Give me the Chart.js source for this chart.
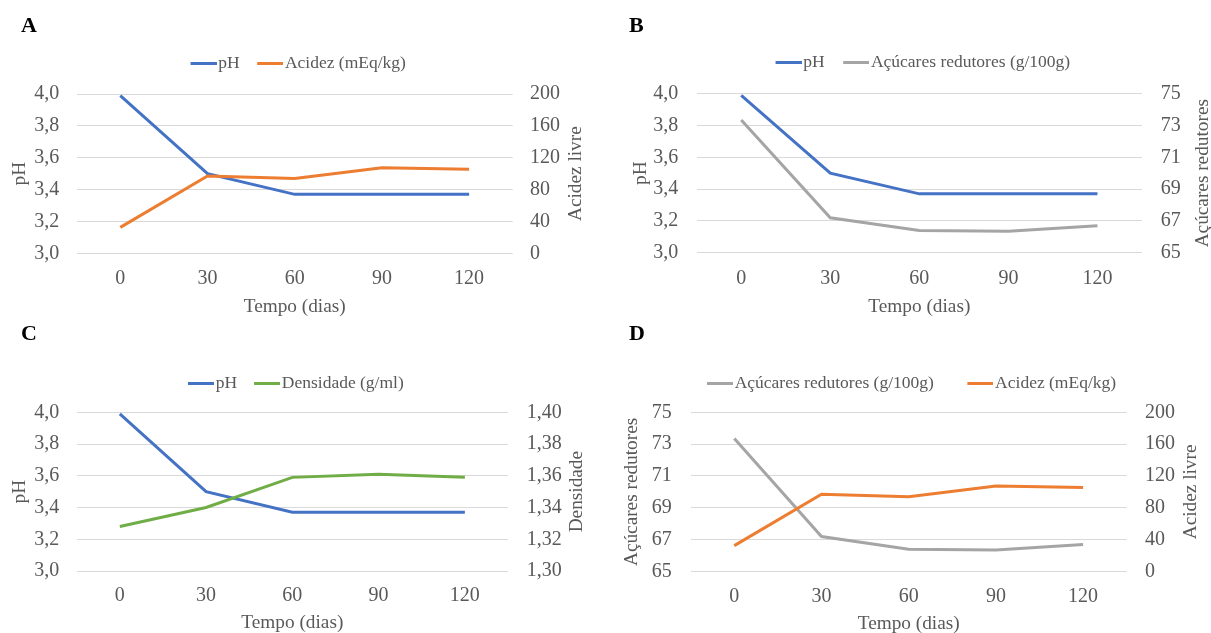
<!DOCTYPE html>
<html>
<head>
<meta charset="utf-8">
<script src="https://cdn.jsdelivr.net/npm/chart.js@4.4.1/dist/chart.umd.min.js"></script>
<style>
html,body{margin:0;padding:0;background:#fff;}
body{width:1211px;height:633px;position:relative;overflow:hidden;}
canvas{position:absolute;}
.lbl{position:absolute;font:bold 22px/22px 'Liberation Serif','Times New Roman',serif;color:#000;z-index:2;}
</style>
</head>
<body>
<div class="lbl" style="left:21px;top:14px">A</div>
<div class="lbl" style="left:629px;top:14px">B</div>
<div class="lbl" style="left:21px;top:322px">C</div>
<div class="lbl" style="left:629px;top:322px">D</div>
<canvas id="cA" width="605" height="320" style="left:0;top:0"></canvas>
<canvas id="cB" width="606" height="320" style="left:605px;top:0"></canvas>
<canvas id="cC" width="605" height="313" style="left:0;top:320px"></canvas>
<canvas id="cD" width="606" height="313" style="left:605px;top:320px"></canvas>
<script>
// ---- data ----
const tempo = ['0', '30', '60', '90', '120'];
const pH = [3.99, 3.50, 3.37, 3.37, 3.37];
const acidez = [32.5, 97, 94, 107.5, 105.5];
const acucares = [73.35, 67.2, 66.4, 66.35, 66.7];
const densidade = [1.328, 1.340, 1.359, 1.361, 1.359];

const seriesLabels = {
  pH: 'pH',
  acidez: 'Acidez (mEq/kg)',
  acucares: 'Açúcares redutores (g/100g)',
  densidade: 'Densidade (g/ml)'
};
const xTitle = 'Tempo (dias)';

// ---- style ----
const FONT = "'Liberation Serif', 'Times New Roman', serif";
const TXT = '#595959';
const GRID = '#D9D9D9';
const BLUE = '#4472C4', ORANGE = '#ED7D31', GRAY = '#A5A5A5', GREEN = '#70AD47';
const TICK_SIZE = 20, TITLE_SIZE = 19.3, LEG_SIZE = 17.5;
const LEG_BOX = 26;

const fmt = (v, dec) => Number(v).toFixed(dec).replace('.', ',');

// legend swatch: a short line placed close to its text
function legendLine(color) {
  const shift = LEG_SIZE / 2 - 2;
  const c = document.createElement('canvas');
  c.width = Math.round(LEG_BOX + 2 * shift);
  c.height = 3;
  const x = c.getContext('2d');
  x.fillStyle = color;
  x.fillRect(c.width - LEG_BOX, 0, LEG_BOX, 3);
  return c;
}

const rightTitlePlugin = {
  id: 'rightTitle',
  afterDraw(chart, args, opts) {
    const {ctx, chartArea} = chart;
    ctx.save();
    ctx.translate(opts.x, (chartArea.top + chartArea.bottom) / 2);
    ctx.rotate(-Math.PI / 2);
    ctx.font = TITLE_SIZE + 'px ' + FONT;
    ctx.fillStyle = TXT;
    ctx.textAlign = 'center';
    ctx.textBaseline = 'middle';
    ctx.fillText(opts.text, 0, 0);
    ctx.restore();
  }
};

function makeChart(id, g, s1, s2) {
  const tlh = TICK_SIZE * 1.2;
  const hlh = TITLE_SIZE * 1.2;
  const legH = LEG_SIZE + g.legPad + 10;
  const padTop = g.legendY - g.legPad - LEG_SIZE / 2;
  const spacer = g.top - padTop - legH;
  const tickFont = {family: FONT, size: TICK_SIZE};
  const titleFont = {family: FONT, size: TITLE_SIZE};
  return new Chart(document.getElementById(id), {
    type: 'line',
    data: {
      labels: tempo,
      datasets: [
        {label: s1.label, data: s1.data, borderColor: s1.color, backgroundColor: s1.color,
         borderWidth: 3, pointRadius: 0, pointStyle: legendLine(s1.color), tension: 0, yAxisID: 'y', order: 1},
        {label: s2.label, data: s2.data, borderColor: s2.color, backgroundColor: s2.color,
         borderWidth: 3, pointRadius: 0, pointStyle: legendLine(s2.color), tension: 0, yAxisID: 'y1', order: 0}
      ]
    },
    options: {
      responsive: false,
      animation: false,
      devicePixelRatio: 1,
      layout: {padding: {top: padTop, left: 0, right: 0, bottom: 0}},
      plugins: {
        legend: {
          display: true, position: 'top', fullSize: g.legFull,
          labels: {
            usePointStyle: true, pointStyleWidth: LEG_BOX,
            font: {family: FONT, size: LEG_SIZE}, color: TXT, padding: g.legPad,
            sort: (a, b) => a.datasetIndex - b.datasetIndex
          }
        },
        title: {display: true, text: '', weight: 500, font: {size: 1, lineHeight: 1},
                padding: {top: spacer - 1, bottom: 0}},
        tooltip: {enabled: false},
        rightTitle: {text: s2.title, x: g.rightTitleX}
      },
      scales: {
        x: {
          offset: true,
          grid: {display: false, drawTicks: false}, border: {display: false},
          ticks: {color: TXT, font: tickFont, padding: g.xLabelY - g.bottom - tlh / 2, maxRotation: 0},
          title: {display: true, text: xTitle, color: TXT, font: titleFont,
                  padding: {top: 0, bottom: g.H - g.xTitleY - hlh / 2}},
          afterFit: s => { s.height = g.H - g.bottom; }
        },
        y: {
          position: 'left', min: s1.min, max: s1.max,
          ticks: {stepSize: s1.step, color: TXT, font: tickFont, padding: g.leftPad,
                  callback: v => fmt(v, s1.dec)},
          grid: {color: GRID, lineWidth: 1, drawTicks: false},
          border: {display: false},
          title: {display: true, text: s1.title, color: TXT, font: titleFont,
                  padding: {top: g.leftTitleX - hlh / 2, bottom: 0}},
          afterFit: s => { s.width = g.left; }
        },
        y1: {
          position: 'right', min: s2.min, max: s2.max,
          ticks: {stepSize: s2.step, color: TXT, font: tickFont, padding: g.rightPad,
                  callback: v => fmt(v, s2.dec)},
          grid: {display: false, drawTicks: false}, border: {display: false},
          title: {display: false},
          afterFit: s => { s.width = g.W - g.right; }
        }
      }
    },
    plugins: [rightTitlePlugin]
  });
}

const sPH = {label: seriesLabels.pH, data: pH, color: BLUE, min: 3.0, max: 4.0, step: 0.2, dec: 1, title: 'pH'};
const sAcid = {label: seriesLabels.acidez, data: acidez, color: ORANGE, min: 0, max: 200, step: 40, dec: 0, title: 'Acidez livre'};
const sAcu = {label: seriesLabels.acucares, data: acucares, color: GRAY, min: 65, max: 75, step: 2, dec: 0, title: 'Açúcares redutores'};
const sDens = {label: seriesLabels.densidade, data: densidade, color: GREEN, min: 1.30, max: 1.40, step: 0.02, dec: 2, title: 'Densidade'};

makeChart('cA', {W: 605, H: 320, left: 76.7, right: 512.7, top: 94, bottom: 253.3,
  legendY: 63, legPad: 10.5, legFull: false, xLabelY: 278.3, xTitleY: 306.5, leftTitleX: 20,
  leftPad: 17.4, rightPad: 17.3, rightTitleX: 576}, sPH, sAcid);
makeChart('cB', {W: 606, H: 320, left: 91.7, right: 537, top: 93.7, bottom: 252.7,
  legendY: 62.7, legPad: 11.5, legFull: false, xLabelY: 278.3, xTitleY: 306.5, leftTitleX: 35.7,
  leftPad: 18.4, rightPad: 18.7, rightTitleX: 598.3}, sPH, sAcu);
makeChart('cC', {W: 605, H: 313, left: 76.7, right: 508, top: 92.3, bottom: 251,
  legendY: 63.3, legPad: 10, legFull: false, xLabelY: 276, xTitleY: 302.8, leftTitleX: 20,
  leftPad: 17.4, rightPad: 18.7, rightTitleX: 576.7}, sPH, sDens);
makeChart('cD', {W: 606, H: 313, left: 85.7, right: 521.7, top: 92.3, bottom: 251.5,
  legendY: 63, legPad: 26.5, legFull: true, xLabelY: 276.3, xTitleY: 303.8, leftTitleX: 26.7,
  leftPad: 19, rightPad: 18.3, rightTitleX: 586}, sAcu, sAcid);
</script>
</body>
</html>
